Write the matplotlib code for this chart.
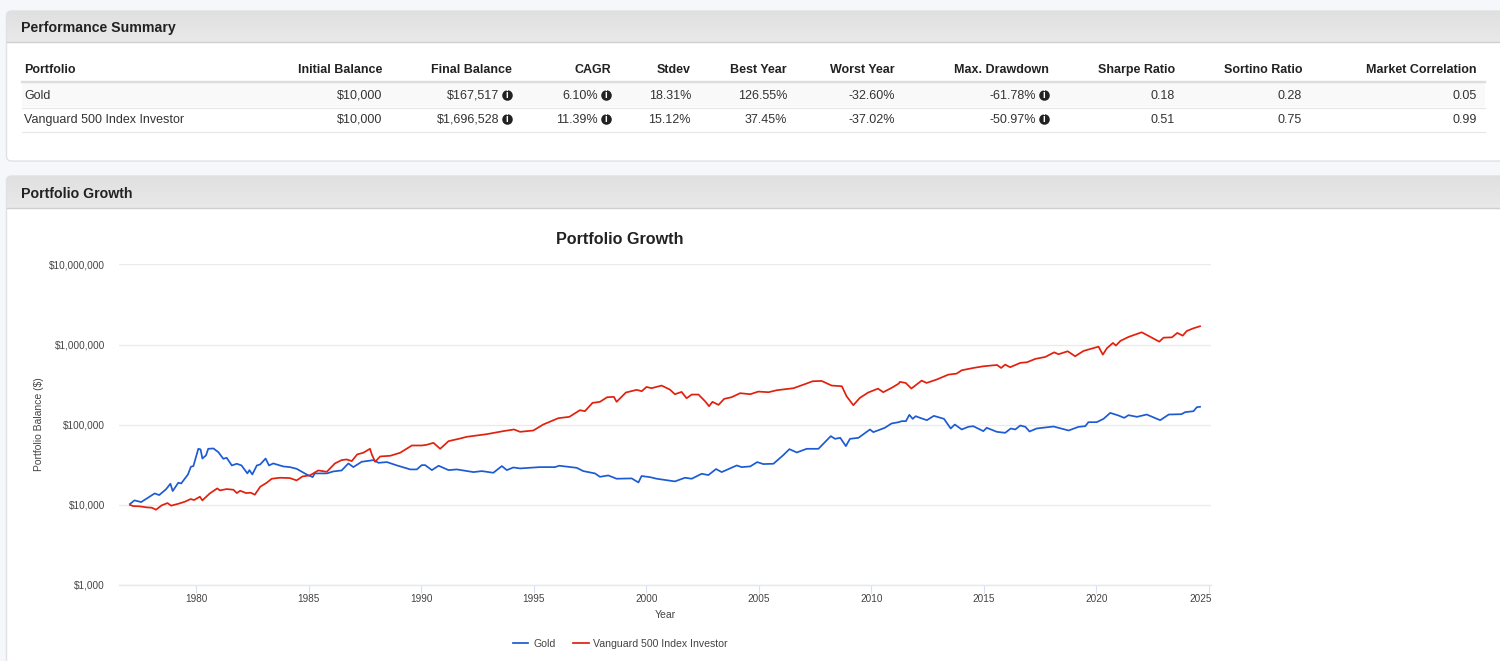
import numpy as np
import matplotlib
matplotlib.use("Agg")
import matplotlib.pyplot as plt
from matplotlib.patches import FancyBboxPatch, Rectangle
from matplotlib.ticker import FixedLocator, FixedFormatter, NullLocator
from matplotlib.transforms import ScaledTranslation

gold_years = [1977.05,1977.25,1977.55,1977.85,1978.15,1978.35,1978.65,1978.85,1978.95,1979.2,1979.33,1979.63,1979.76,1979.87,1980.09,1980.19,1980.27,1980.43,1980.53,1980.76,1980.98,1981.2,1981.35,1981.58,1981.8,1982.01,1982.27,1982.36,1982.49,1982.69,1982.84,1983.08,1983.23,1983.42,1983.86,1984.16,1984.46,1984.9,1985.17,1985.27,1985.8,1986.09,1986.46,1986.76,1986.98,1987.35,1987.87,1988.1,1988.47,1988.92,1989.51,1989.8,1990.02,1990.17,1990.47,1990.77,1991.21,1991.58,1992.32,1992.69,1993.2,1993.58,1993.8,1994.09,1994.39,1995.26,1995.94,1996.13,1996.91,1997.2,1997.72,1997.94,1998.31,1998.68,1999.35,1999.65,1999.79,2000.16,2000.46,2001.27,2001.72,2002.02,2002.46,2002.76,2003.1,2003.35,2004.02,2004.24,2004.62,2004.93,2005.2,2005.65,2006.09,2006.36,2006.69,2007.13,2007.65,2008.2,2008.39,2008.62,2008.87,2009.05,2009.43,2009.94,2010.09,2010.6,2010.9,2011.22,2011.35,2011.54,2011.69,2011.84,2011.97,2012.17,2012.47,2012.78,2013.23,2013.53,2013.71,2014.02,2014.31,2014.53,2014.98,2015.13,2015.58,2015.95,2016.2,2016.4,2016.62,2016.85,2017.03,2017.35,2018.1,2018.77,2019.21,2019.51,2019.65,2020.02,2020.32,2020.62,2020.99,2021.24,2021.43,2021.81,2022.24,2022.84,2023.22,2023.79,2023.94,2024.32,2024.47,2024.61]
gold_vals = [10240,11380,10840,12280,13900,13260,15600,18360,14870,18900,18530,23990,29900,30480,50100,49200,37900,41400,50100,50600,45500,37600,38700,31050,32600,31050,24700,27160,23990,31050,32000,37900,31050,32900,30200,29600,28200,24000,22200,24700,24700,26150,26900,32900,29600,34500,36200,33500,34200,31050,27700,27700,31350,31350,27160,30800,27160,27700,25650,26400,25150,30500,27160,29300,28500,29600,29600,30800,29000,26400,24700,22400,23300,21200,21400,19060,22900,22200,21200,19630,21800,21200,24450,23550,28000,25650,31050,29600,30200,34200,32300,32600,41800,49600,45100,50100,50100,72100,66700,68700,54100,66700,68700,87300,80900,91600,103700,107700,110900,110900,133000,118500,127900,121900,114000,129100,118500,89800,100700,87300,94200,96000,83200,91600,81600,79300,89800,87300,97900,94200,82400,89800,95100,84800,94200,96000,107700,107700,118500,140600,130300,121900,131700,125500,134200,114000,134200,135500,143500,147600,165600,167517]

fund_years = [1977.05,1977.19,1977.49,1977.79,1978.02,1978.21,1978.46,1978.72,1978.88,1979.21,1979.49,1979.75,1979.9,1980.16,1980.27,1980.6,1980.93,1981.05,1981.35,1981.65,1981.8,1981.95,1982.21,1982.42,1982.6,1982.84,1983.13,1983.35,1983.71,1984.16,1984.46,1984.72,1985.05,1985.42,1985.8,1986.16,1986.46,1986.68,1986.91,1987.15,1987.42,1987.72,1987.8,1987.95,1988.17,1988.62,1989.06,1989.58,1990.02,1990.24,1990.54,1990.84,1991.21,1991.73,1992.02,1992.91,1993.64,1994.12,1994.39,1994.98,1995.42,1996.09,1996.58,1997.05,1997.27,1997.61,1997.94,1998.26,1998.56,1998.68,1999.09,1999.57,1999.8,2000.01,2000.23,2000.68,2001.05,2001.27,2001.57,2001.79,2002.02,2002.32,2002.61,2002.79,2002.94,2003.21,2003.46,2003.79,2004.17,2004.62,2004.98,2005.43,2005.8,2006.54,2007.04,2007.39,2007.79,2008.24,2008.69,2008.9,2009.2,2009.49,2009.86,2010.3,2010.53,2010.9,2011.22,2011.27,2011.53,2011.78,2012.24,2012.46,2012.9,2013.43,2013.79,2014.02,2014.54,2014.99,2015.59,2015.77,2015.95,2016.17,2016.62,2016.92,2017.29,2017.73,2018.13,2018.32,2018.73,2019.06,2019.43,2020.1,2020.29,2020.47,2020.74,2020.87,2021.07,2021.43,2022.02,2022.54,2022.8,2022.99,2023.36,2023.6,2023.84,2024.02,2024.32,2024.61]
fund_vals = [10000,9670,9580,9310,9220,8700,9860,10540,9770,10340,10950,11830,11490,12640,11380,13900,16060,15160,15750,15450,14040,15020,14040,14190,13390,16830,18890,21180,21810,21600,20200,22650,23330,26900,25900,32900,36200,36900,35200,42600,44700,50100,42600,34500,40200,41000,44700,55100,55100,56200,59500,50100,62400,67400,70700,76300,83200,87300,81600,84800,100700,120800,125500,152000,147600,187500,193200,220600,222800,193200,252400,272500,262300,296600,285800,308300,274800,240500,257000,214300,238200,238200,196800,170300,193200,177000,210400,220600,247700,240500,259400,254700,269800,285800,320600,349000,352400,308300,302700,227000,175400,216300,252400,282500,254700,288400,326600,342700,332700,283100,355600,332700,366400,422700,434500,478600,511700,537000,557200,511700,563400,522400,591600,602600,663700,701500,801700,758600,826000,716100,833700,944100,749900,899500,1050000,972800,1112000,1247000,1426000,1189000,1089000,1222000,1233000,1400000,1294000,1479000,1600000,1696528]

series_names = ["Gold", "Vanguard 500 Index Investor"]
x_ticks = [1980,1985,1990,1995,2000,2005,2010,2015,2020,2025]
y_ticks = [1000,10000,100000,1000000,10000000]
y_labels = ["$1,000","$10,000","$100,000","$1,000,000","$10,000,000"]

table_cols = ["Portfolio","Initial Balance","Final Balance","CAGR","Stdev","Best Year","Worst Year","Max. Drawdown","Sharpe Ratio","Sortino Ratio","Market Correlation"]
table_rows = [
    ["Gold","$10,000","$167,517","6.10%","18.31%","126.55%","-32.60%","-61.78%","0.18","0.28","0.05"],
    ["Vanguard 500 Index Investor","$10,000","$1,696,528","11.39%","15.12%","37.45%","-37.02%","-50.97%","0.51","0.75","0.99"],
]
info_cols = [2,3,7]

W, H = 1500, 661
plt.rcParams['font.family'] = ['Liberation Sans','DejaVu Sans']
fig = plt.figure(figsize=(W/100, H/100), dpi=100, facecolor='#f5f7fb')
bg = fig.add_axes([0,0,1,1], zorder=0)
bg.set_xlim(0,W); bg.set_ylim(H,0); bg.axis('off')

grad = np.linspace(0,1,32).reshape(-1,1)
def panel(top, bottom, head):
    body = FancyBboxPatch((6.5,top),1600,bottom-top,boxstyle="round,pad=0,rounding_size=5",fc='white',ec='#dfe1e4',lw=1.0)
    bg.add_patch(body)
    im = bg.imshow(grad,extent=(6.5,1500,head,top),aspect='auto',cmap=matplotlib.colors.LinearSegmentedColormap.from_list('h',['#e0e0e0','#e9e9e9']),zorder=1.5)
    im.set_clip_path(body)
    bg.plot([6.5,1500],[head,head],color='#cfcfcf',lw=1.0,zorder=2)
panel(11,161,42)
panel(176,700,208)
bg.set_xlim(0,W); bg.set_ylim(H,0)
bg.text(21,28,"Performance Summary",fontsize=10.2,fontweight='bold',color='#222222',va='center')
bg.text(21,193.5,"Portfolio Growth",fontsize=10.2,fontweight='bold',color='#222222',va='center')

# table
col_right = [24,382,512,611,691,787,895,1049,1175,1302,1477]
bg.add_patch(Rectangle((22,83),1463,24,fc='#f9f9f9',ec='none',zorder=1))
bg.plot([22,1485],[82,82],color='#dddddd',lw=1.7,zorder=2)
bg.plot([22,1485],[107.5,107.5],color='#e6e6e6',lw=0.8,zorder=2)
bg.plot([22,1485],[131.5,131.5],color='#e6e6e6',lw=0.8,zorder=2)
for i,c in enumerate(table_cols):
    bg.text(col_right[i],69.8,c,fontsize=9.0,fontweight='bold',color='#222222',va='center',ha='left' if i==0 else 'right')
for r,(row,y) in enumerate(zip(table_rows,[95,119])):
    for i,v in enumerate(row):
        xr = col_right[i]
        if i in info_cols:
            xr -= 13
            ic = col_right[i]-5.5
            bg.plot([ic],[y],'o',ms=7.6,mfc='#222222',mec='none',zorder=3)
            bg.text(ic,y,"i",fontsize=7,fontweight='bold',color='white',ha='center',va='center',zorder=4)
        bg.text(xr,y+1.0,v,fontsize=9.0,color='#333333',va='center',ha='left' if i==0 else 'right')

# chart
left,right,top,bottom = 119,1211,264.5,585.0
ax = fig.add_axes([left/W,1-bottom/H,(right-left)/W,(bottom-top)/H],zorder=2)
ax.patch.set_alpha(0)
px_per_year = 22.5
ax.set_xlim(1980+(left-196.3)/px_per_year,1980+(right-196.3)/px_per_year)
ax.set_yscale('log'); ax.set_ylim(1000,10000000)
ax.yaxis.set_major_locator(FixedLocator(y_ticks))
ax.yaxis.set_major_formatter(FixedFormatter(y_labels))
ax.yaxis.set_minor_locator(NullLocator())
ax.set_xticks(x_ticks)
ax.set_xticklabels([str(t) for t in x_ticks])
for s in ['top','left','right']:
    ax.spines[s].set_visible(False)
ax.spines['bottom'].set_color('#e3e8f4'); ax.spines['bottom'].set_linewidth(1.0)
ax.grid(axis='y',color='#ebebeb',lw=1.0,zorder=0); ax.set_axisbelow(True)
ax.tick_params(axis='y',length=0,pad=10,labelsize=7.2,labelcolor='#444444')
ax.tick_params(axis='x',length=5.8,width=0.8,color='#d8e0f0',pad=0.5,labelsize=7.2,labelcolor='#444444')
lab = ax.get_xticklabels()[-1]; lab.set_ha('right')
lab.set_transform(lab.get_transform()+ScaledTranslation(2/72,0,fig.dpi_scale_trans))
ax.plot(gold_years,gold_vals,color='#1c5bd4',lw=1.25,label=series_names[0],zorder=3,solid_joinstyle='round')
ax.plot(fund_years,fund_vals,color='#e2200e',lw=1.25,label=series_names[1],zorder=4,solid_joinstyle='round')
bg.text(620,239.5,"Portfolio Growth",fontsize=11.6,fontweight='bold',color='#222222',ha='center',va='center')
fig.text(665/W,1-614.5/H,"Year",fontsize=7.5,color='#444444',ha='center',va='center')
fig.text(38.5/W,1-424.5/H,"Portfolio Balance ($)",fontsize=7.5,color='#444444',ha='center',va='center',rotation=90)
fig.legend(loc='center',bbox_to_anchor=(620.5/W,1-644/H),ncol=2,frameon=False,fontsize=7.6,labelcolor='#444444',
           handlelength=1.45,handletextpad=0.45,columnspacing=1.7,borderpad=0)
fig.savefig('out.png',dpi=100,facecolor=fig.get_facecolor())
